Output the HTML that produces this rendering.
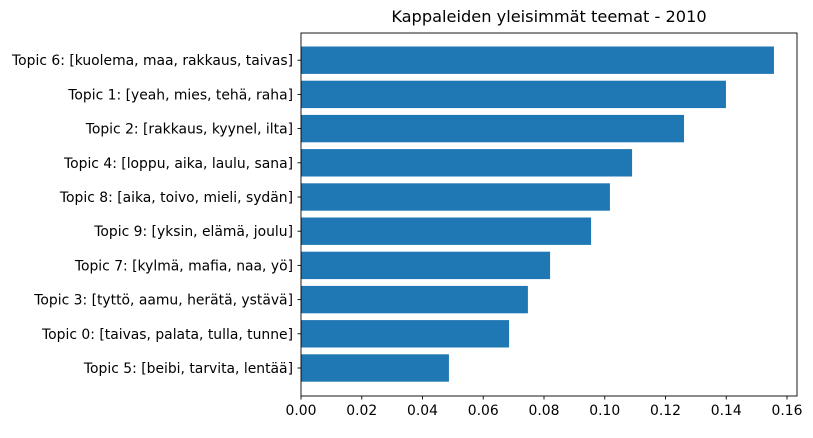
<!DOCTYPE html>
<html><head><meta charset="utf-8"><style>
body{margin:0;background:#fff;font-family:"Liberation Sans","DejaVu Sans",sans-serif;}
svg text{font-family:"DejaVu Sans","Liberation Sans",sans-serif;}
</style></head><body>
<svg id="chart" width="813" height="433" xmlns="http://www.w3.org/2000/svg">
<text x="549" y="22" font-size="16.2" text-anchor="middle">Kappaleiden yleisimmät teemat - 2010</text>
<g id="bars"></g><g id="yticks"></g><g id="xticks"></g>
<rect x="301" y="33" width="496" height="363" fill="none" stroke="#000" stroke-width="0.9"/>
</svg>
<script>
const categories=["Topic 5: [beibi, tarvita, lentää]","Topic 0: [taivas, palata, tulla, tunne]","Topic 3: [tyttö, aamu, herätä, ystävä]","Topic 7: [kylmä, mafia, naa, yö]","Topic 9: [yksin, elämä, joulu]","Topic 8: [aika, toivo, mieli, sydän]","Topic 4: [loppu, aika, laulu, sana]","Topic 2: [rakkaus, kyynel, ilta]","Topic 1: [yeah, mies, tehä, raha]","Topic 6: [kuolema, maa, rakkaus, taivas]"];
const values=[0.0487,0.0685,0.0747,0.082,0.0955,0.1017,0.109,0.1261,0.1399,0.1557];
const xTicks=[0,0.02,0.04,0.06,0.08,0.10,0.12,0.14,0.16];
const xTickLabels=["0.00","0.02","0.04","0.06","0.08","0.10","0.12","0.14","0.16"];
const NS="http://www.w3.org/2000/svg";
const x=v=>301+v*3037.5;
const y=i=>368-i*34.2;
const bh=27.4;
const bars=document.getElementById('bars'),yt=document.getElementById('yticks'),xt=document.getElementById('xticks');
function mk(t,a,p){const e=document.createElementNS(NS,t);for(const k in a)e.setAttribute(k,a[k]);p.appendChild(e);return e;}
categories.forEach((c,i)=>{
 const r=mk('rect',{x:x(0),y:y(i)-bh/2,width:x(values[i])-x(0),height:bh,fill:'#1f77b4'},bars);
 
 
 mk('line',{x1:297.5,x2:301,y1:y(i),y2:y(i),stroke:'#000','stroke-width':0.9},yt);
 const t=mk('text',{x:293,y:y(i)+5,'font-size':13.9,'text-anchor':'end'},yt);
 t.textContent=c;
 
 
});
xTicks.forEach((v,i)=>{
 mk('line',{x1:x(v),x2:x(v),y1:396,y2:399.5,stroke:'#000','stroke-width':0.9},xt);
 const t=mk('text',{x:x(v),y:415,'font-size':13.9,'text-anchor':'middle'},xt);
 t.textContent=xTickLabels[i];
 
 
});
</script>
</body></html>
